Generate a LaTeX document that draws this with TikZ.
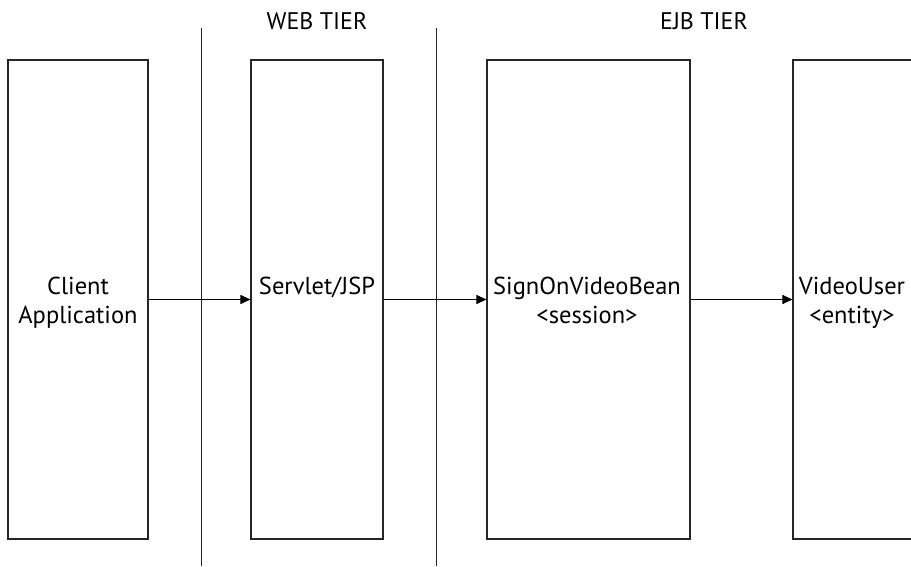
\documentclass[tikz,border=0pt]{standalone}
\usepackage{fontspec}
\setmainfont{PT Sans}
\usetikzlibrary{arrows.meta}
\begin{document}
\begin{tikzpicture}[x=1pt,y=1pt,
  tbox/.style={draw=black!85, line width=1.1pt, fill=none, inner sep=0pt},
  lbl/.style={font=\fontsize{24.5}{28.5}\selectfont, align=center, inner sep=0pt, anchor=north},
  tier/.style={font=\fontsize{24}{28}\selectfont, inner sep=0pt},
  arr/.style={line width=0.9pt, -{Triangle[length=10pt,width=9pt]}},
  sep/.style={line width=1pt, draw=black!85}]
\useasboundingbox (0,0) rectangle (911,566);
% boxes
\node[tbox, minimum width=140pt, minimum height=479pt] (client) at (78,266.5) {};
\node[tbox, minimum width=132pt, minimum height=479pt] (servlet) at (317,266.5) {};
\node[tbox, minimum width=203pt, minimum height=479pt] (signon) at (588.5,266.5) {};
\node[tbox, minimum width=142pt, minimum height=479pt] (video) at (864,266.5) {};
% labels
\node[lbl] (clientT) at (78,291.6) {\strut Client\\Application};
\node[lbl] (servletT) at (317,291.6) {\strut Servlet/JSP};
\node[lbl] (signonT) at (587,291.6) {\strut SignOnVideoBean\\{<}session{>}};
\node[lbl] (videoT) at (852,291.6) {\strut VideoUser\\{<}entity{>}};
% tier separators
\coordinate (s1t) at (201,538);
\coordinate (s1b) at (201,0);
\coordinate (s2t) at (436,538);
\coordinate (s2b) at (436,0);
\draw[sep] (s1t) -- (s1b);
\draw[sep] (s2t) -- (s2b);
\node[tier] (web) at (317,544.5) {WEB TIER};
\node[tier] (ejb) at (704,544.5) {EJB TIER};
% arrows
\draw[arr] (client.east) -- (servlet.west);
\draw[arr] (servlet.east) -- (signon.west);
\draw[arr] (signon.east) -- (video.west);
\end{tikzpicture}
\end{document}
